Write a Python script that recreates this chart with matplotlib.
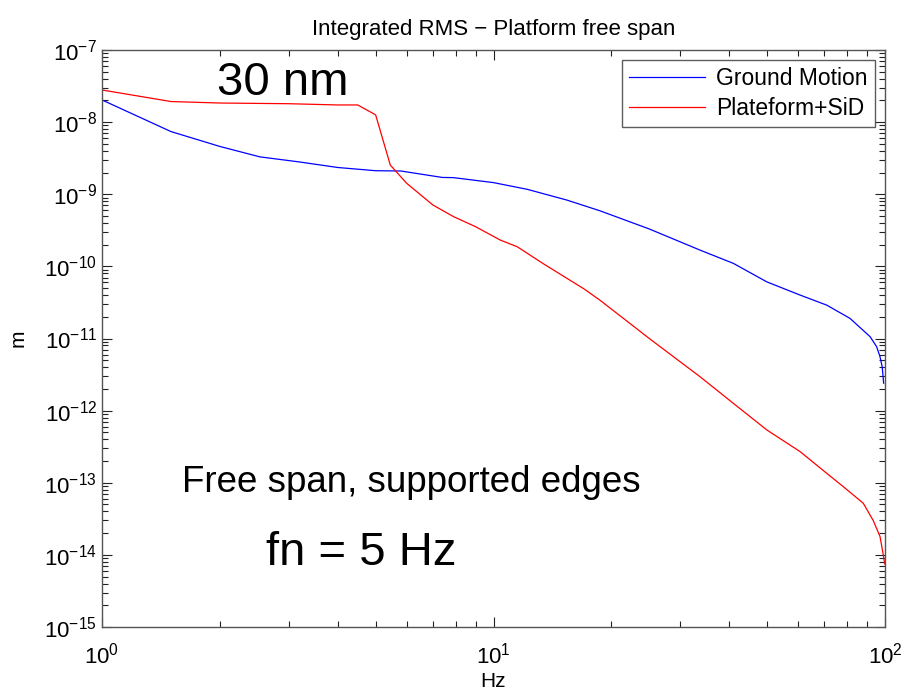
import numpy as np
import matplotlib.pyplot as plt
from matplotlib.ticker import LogLocator, NullFormatter

plt.rcParams['font.family'] = ['Liberation Sans', 'DejaVu Sans']
plt.rcParams['mathtext.fontset'] = 'custom'
plt.rcParams['mathtext.rm'] = 'Liberation Sans'

# integrated RMS displacement vs frequency
ground_freq = [1.0, 1.5, 2.0, 2.53, 3.2, 4.0, 5.0, 5.8, 7.4, 7.9, 10.0, 12.2,
               15.4, 18.7, 25.0, 33.7, 41.0, 49.9, 60.7, 71.0, 81.4, 91.6,
               95.2, 97.1, 98.4, 99.2]
ground_rms = [2.03e-8, 7.4e-9, 4.6e-9, 3.3e-9, 2.8e-9, 2.35e-9, 2.12e-9, 2.1e-9,
              1.71e-9, 1.7e-9, 1.45e-9, 1.17e-9, 8.3e-10, 5.9e-10, 3.3e-10,
              1.68e-10, 1.1e-10, 6.1e-11, 4.0e-11, 2.9e-11, 1.9e-11, 1.06e-11,
              7.7e-12, 5.6e-12, 4.0e-12, 2.4e-12]

platform_freq = [1.0, 1.5, 2.0, 3.0, 4.0, 4.5, 5.0, 5.45, 6.0, 7.0, 7.9, 9.0,
                 10.4, 11.5, 13.4, 17.0, 18.7, 25.0, 33.7, 41.0, 49.9, 60.7,
                 71.0, 78.3, 88.0, 93.3, 97.1, 99.0, 99.8]
platform_rms = [2.79e-8, 1.93e-8, 1.84e-8, 1.8e-8, 1.73e-8, 1.73e-8, 1.26e-8,
                2.54e-9, 1.42e-9, 7.1e-10, 4.9e-10, 3.55e-10, 2.32e-10,
                1.87e-10, 1.09e-10, 4.9e-11, 3.4e-11, 1.0e-11, 2.95e-12,
                1.26e-12, 5.4e-13, 2.7e-13, 1.35e-13, 8.8e-14, 5.2e-14,
                3.0e-14, 1.8e-14, 1.0e-14, 7.5e-15]

fig = plt.figure(figsize=(9.07, 6.94), dpi=100)
ax = fig.add_axes([102 / 907, 1 - 627 / 694, 783 / 907, 577 / 694])

ax.loglog(ground_freq, ground_rms, color='#0000ff', lw=0.9, label='Ground Motion')
ax.loglog(platform_freq, platform_rms, color='#ff0000', lw=0.9, label='Plateform+SiD')

ax.set_xlim(1, 100)
ax.set_ylim(1e-15, 1e-7)
ax.yaxis.set_major_locator(LogLocator(base=10, numticks=20))
ax.yaxis.set_minor_locator(LogLocator(base=10, subs=np.arange(2, 10), numticks=20))
ax.yaxis.set_minor_formatter(NullFormatter())
ax.xaxis.set_minor_formatter(NullFormatter())

ax.tick_params(which='both', direction='in', top=True, right=True,
               labelsize=16, color='#222222', width=0.8)
ax.tick_params(which='major', length=7)
ax.tick_params(which='minor', length=4)
ax.tick_params(axis='y', which='major', pad=3.5)
ax.tick_params(axis='x', which='major', pad=11)
for s in ax.spines.values():
    s.set_color('#555555')
    s.set_linewidth(1.0)

ax.set_title('Integrated RMS \u2212 Platform free span', fontsize=16, pad=11)
ax.set_xlabel('Hz', fontsize=15, labelpad=3)
ax.set_ylabel('m', fontsize=15, labelpad=12)

leg = ax.legend(loc='upper right', fontsize=16.5, frameon=True, fancybox=False,
                handlelength=3.3, borderaxespad=0.45, labelspacing=0.3,
                borderpad=0.3, handletextpad=0.5)
leg.get_frame().set_edgecolor('#333333')
leg.get_frame().set_linewidth(1.0)

ax.text(0.231, 0.922, '30 nm', transform=ax.transAxes, fontsize=34,
        ha='center', va='baseline')
ax.text(0.102, 0.2345, 'Free span, supported edges', transform=ax.transAxes,
        fontsize=26.5, ha='left', va='baseline')
ax.text(0.21, 0.107, 'fn = 5 Hz', transform=ax.transAxes, fontsize=34,
        ha='left', va='baseline')

fig.savefig('out.png', dpi=100)
